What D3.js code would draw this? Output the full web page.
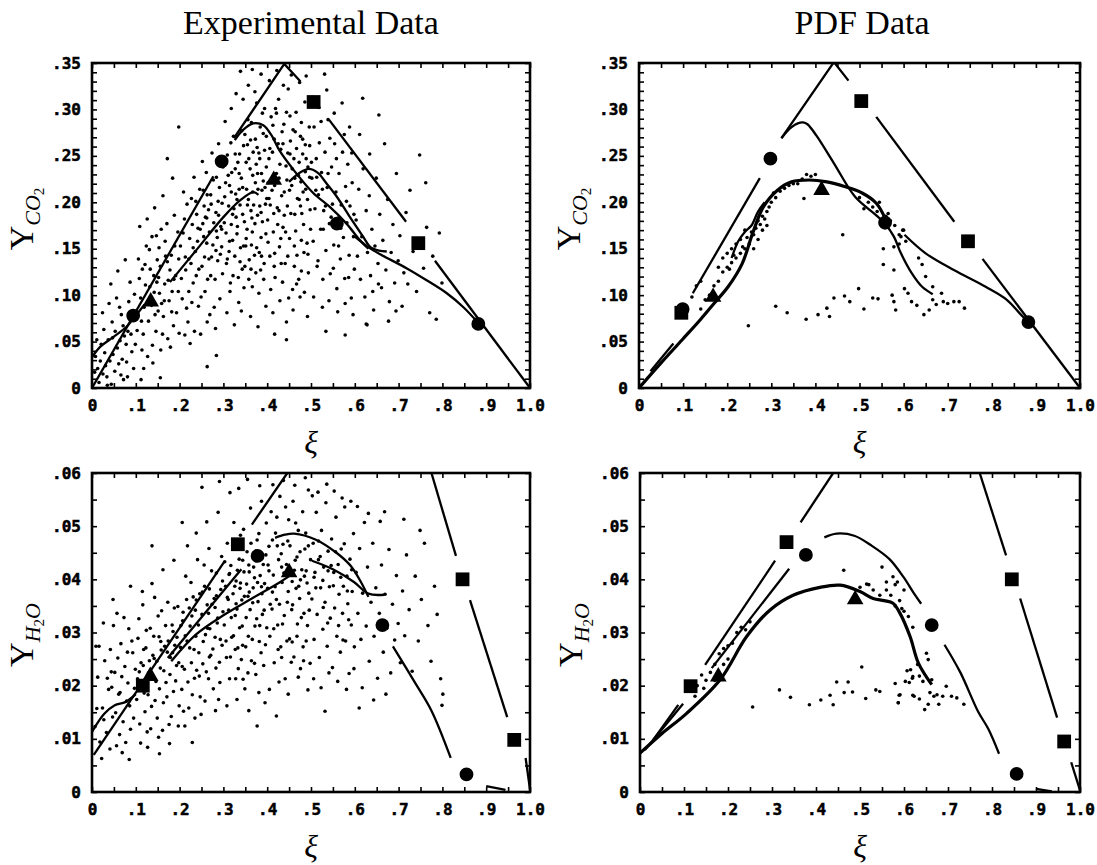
<!DOCTYPE html>
<html>
<head>
<meta charset="utf-8">
<title>Y_CO2 and Y_H2O against mixture fraction</title>
<script src="https://d3js.org/d3.v7.min.js"></script>
<style>
  body { margin: 0; background: #fff; }
</style>
</head>
<body>
<script>
// ---- axis labels ----
const xTickValues = [0, .1, .2, .3, .4, .5, .6, .7, .8, .9, 1.0];
const xTickLabels = ["0", ".1", ".2", ".3", ".4", ".5", ".6", ".7", ".8", ".9", "1.0"];
const co2TickValues = [0, .05, .10, .15, .20, .25, .30, .35];
const co2TickLabels = ["0", ".05", ".10", ".15", ".20", ".25", ".30", ".35"];
const h2oTickValues = [0, .01, .02, .03, .04, .05, .06];
const h2oTickLabels = ["0", ".01", ".02", ".03", ".04", ".05", ".06"];

// ---- Experimental CO2 (top left) ----
const expCO2Dots = [
  [.013,.021],[.021,.047],[.008,.034],[.034,.012],[.027,.063],[.041,.029],[.046,.071],[.052,.018],[.058,.043],[.063,.087],[.069,.031],[.074,.056],[.081,.012],[.086,.074],[.091,.039],[.097,.101],[.016,.006],[.029,.038],[.037,.052],[.044,.004],[.053,.061],[.061,.026],[.067,.079],[.072,.009],[.078,.047],[.084,.093],[.089,.058],[.095,.021],[.006,.017],[.019,.029],[.024,.081],[.031,.024],[.039,.091],[.048,.036],[.056,.097],[.066,.014],[.071,.067],[.079,.028],[.087,.114],[.093,.083],[.099,.047],[.011,.052],[.043,.112],[.059,.126],[.076,.138],[.035,.003],[.064,.051],[.082,.061],[.047,.054],[.025,.015],
  [.103,.062],[.108,.118],[.114,.041],[.119,.087],[.124,.153],[.129,.072],[.133,.128],[.138,.046],[.142,.103],[.147,.164],[.151,.083],[.156,.131],[.161,.058],[.166,.112],[.171,.177],[.176,.094],[.181,.143],[.186,.067],[.191,.121],[.196,.168],[.106,.139],[.111,.097],[.117,.058],[.122,.111],[.127,.034],[.131,.149],[.136,.089],[.141,.121],[.146,.061],[.149,.138],[.154,.102],[.158,.171],[.163,.077],[.168,.142],[.173,.053],[.178,.127],[.183,.104],[.188,.186],[.193,.081],[.198,.139],[.104,.081],[.113,.072],[.121,.133],[.128,.094],[.137,.163],[.144,.079],[.152,.119],[.159,.091],[.167,.158],[.174,.116],[.182,.082],[.189,.153],[.197,.104],[.109,.174],[.126,.182],[.143,.194],[.162,.207],[.184,.226],[.118,.021],[.139,.027],[.157,.041],[.179,.044],[.199,.059],[.132,.109],[.153,.151],[.172,.136],[.187,.117],[.115,.128],[.148,.114],[.165,.094],
  [.202,.153],[.206,.096],[.211,.182],[.214,.127],[.219,.071],[.223,.161],[.227,.204],[.231,.113],[.236,.147],[.239,.187],[.243,.088],[.247,.171],[.251,.131],[.254,.213],[.258,.104],[.262,.156],[.266,.192],[.269,.079],[.273,.141],[.277,.224],[.281,.117],[.284,.169],[.288,.201],[.292,.096],[.296,.152],[.299,.238],[.204,.118],[.208,.167],[.213,.141],[.217,.198],[.221,.104],[.226,.134],[.229,.176],[.234,.061],[.238,.121],[.241,.158],[.246,.214],[.249,.098],[.253,.177],[.257,.141],[.261,.232],[.264,.117],[.268,.168],[.272,.198],[.276,.154],[.279,.087],[.283,.189],[.287,.137],[.291,.216],[.294,.174],[.298,.123],[.216,.086],[.228,.092],[.244,.128],[.259,.184],[.271,.121],[.286,.162],[.297,.199],[.209,.211],[.233,.227],[.252,.244],[.274,.253],[.289,.263],[.224,.048],[.248,.058],[.263,.071],[.282,.064],[.212,.057],[.237,.201],[.256,.196],[.267,.139],[.278,.178],[.293,.144],[.221,.139],[.242,.172],[.263,.208],[.284,.227],[.231,.151],[.255,.163],
  [.302,.178],[.305,.221],[.307,.134],[.309,.251],[.312,.196],[.314,.158],[.316,.113],[.319,.232],[.321,.187],[.323,.271],[.326,.142],[.328,.209],[.331,.166],[.333,.243],[.335,.092],[.338,.197],[.341,.226],[.343,.128],[.346,.261],[.348,.179],[.351,.153],[.353,.214],[.356,.289],[.358,.117],[.361,.236],[.363,.191],[.366,.168],[.368,.254],[.371,.143],[.373,.221],[.376,.307],[.378,.186],[.381,.102],[.383,.247],[.386,.162],[.388,.213],[.391,.274],[.393,.134],[.396,.198],[.398,.238],
  [.303,.206],[.306,.167],[.311,.229],[.313,.147],[.317,.264],[.322,.121],[.324,.193],[.327,.236],[.332,.174],[.336,.214],[.339,.151],[.342,.277],[.344,.187],[.347,.108],[.352,.243],[.354,.171],[.357,.203],[.359,.138],[.362,.267],[.364,.154],[.367,.229],[.369,.197],[.372,.177],[.374,.124],[.377,.259],[.379,.214],[.382,.146],[.384,.281],[.387,.231],[.389,.179],[.392,.117],[.394,.256],[.397,.166],[.399,.204],
  [.304,.287],[.318,.301],[.329,.317],[.345,.311],[.357,.326],[.372,.319],[.386,.338],[.394,.301],[.308,.081],[.325,.068],[.341,.083],[.362,.077],[.379,.066],[.397,.088],[.315,.104],[.334,.119],[.349,.131],[.366,.109],[.385,.127],[.318,.211],[.337,.252],[.355,.262],[.375,.241],[.391,.223],[.329,.184],[.346,.153],[.365,.183],[.383,.196],
  [.401,.181],[.404,.247],[.406,.142],[.409,.292],[.411,.213],[.414,.168],[.416,.268],[.418,.119],[.421,.231],[.423,.194],[.426,.311],[.428,.152],[.431,.257],[.433,.207],[.436,.173],[.438,.284],[.441,.134],[.443,.239],[.446,.196],[.448,.322],[.451,.161],[.453,.266],[.456,.218],[.458,.106],[.461,.247],[.463,.187],[.466,.297],[.468,.143],[.471,.229],[.473,.203],[.476,.271],[.478,.126],[.481,.252],[.483,.176],[.486,.308],[.488,.214],[.491,.156],[.493,.238],[.496,.281],[.498,.192],
  [.402,.221],[.407,.197],[.412,.254],[.417,.145],[.419,.301],[.424,.176],[.427,.226],[.432,.134],[.434,.276],[.439,.211],[.442,.168],[.447,.253],[.449,.097],[.454,.188],[.457,.236],[.462,.153],[.464,.276],[.469,.204],[.472,.117],[.477,.222],[.479,.188],[.484,.146],[.487,.262],[.492,.203],[.494,.124],[.497,.227],
  [.405,.331],[.422,.342],[.437,.326],[.455,.337],[.474,.329],[.489,.336],[.413,.081],[.429,.094],[.444,.071],[.459,.084],[.475,.098],[.492,.077],[.408,.106],[.435,.114],[.467,.112],[.485,.103],[.415,.188],[.445,.224],[.465,.169],[.482,.211],[.499,.171],[.425,.263],[.452,.293],[.478,.286],
  [.502,.226],[.505,.158],[.507,.281],[.509,.193],[.512,.247],[.514,.131],[.517,.208],[.519,.264],[.522,.171],[.524,.232],[.527,.117],[.529,.191],[.532,.254],[.534,.148],[.537,.216],[.539,.289],[.542,.177],[.544,.123],[.547,.238],[.549,.198],[.552,.154],[.554,.263],[.557,.211],[.559,.107],[.562,.183],[.564,.231],[.567,.139],[.569,.197],[.572,.254],[.574,.162],[.577,.118],[.579,.217],[.582,.178],[.584,.241],[.587,.143],[.589,.196],[.592,.097],[.594,.221],[.597,.163],[.599,.128],
  [.503,.313],[.518,.302],[.536,.321],[.553,.296],[.571,.307],[.588,.281],[.506,.098],[.526,.087],[.541,.094],[.561,.082],[.578,.091],[.596,.079],[.511,.213],[.528,.171],[.546,.184],[.563,.153],[.581,.201],[.598,.187],[.516,.137],[.533,.196],[.551,.129],[.568,.172],[.586,.119],[.523,.287],[.543,.269],[.558,.247],[.576,.273],[.593,.253],
  [.603,.181],[.606,.142],[.609,.214],[.613,.117],[.616,.163],[.619,.236],[.623,.098],[.626,.191],[.629,.146],[.633,.207],[.636,.121],[.639,.171],[.643,.084],[.646,.153],[.649,.226],[.653,.134],[.657,.187],[.661,.108],[.664,.159],[.668,.263],[.671,.127],[.675,.203],[.679,.093],[.683,.146],[.687,.176],[.691,.113],[.695,.231],[.699,.137],[.703,.164],[.708,.088],[.712,.124],[.717,.189],[.611,.273],[.634,.252],[.654,.112],[.677,.072],[.694,.083],[.721,.112],[.641,.104],[.628,.068],
  [.726,.213],[.733,.147],[.741,.104],[.748,.251],[.757,.129],[.764,.173],[.771,.081],[.778,.142],[.786,.074],[.793,.167],[.762,.221],[.799,.113],
  [.172,.247],[.198,.281],[.156,.011],[.263,.023],[.284,.035],[.417,.058],[.444,.052],[.534,.061],[.578,.057],[.626,.069],[.655,.294],[.618,.312],[.531,.338],[.366,.343],[.339,.341],[.112,.009],
  [.262,.183],[.271,.208],[.289,.186],[.301,.241],[.314,.218],[.327,.252],[.336,.231],[.349,.273],[.358,.247],[.364,.286],[.373,.268],[.381,.253],[.389,.296],[.398,.271],[.406,.258],[.413,.283],[.421,.296],[.429,.241],[.436,.263],[.444,.297],[.452,.252],[.459,.278],[.467,.258],[.473,.243],[.481,.268],[.489,.247],[.497,.261],[.318,.176],[.331,.203],[.344,.216],[.355,.197],[.367,.211],[.378,.231],[.386,.189],[.395,.216],[.404,.204],[.417,.218],[.427,.191],[.439,.186],[.451,.213],[.463,.226],[.476,.196],[.487,.233],[.501,.243],[.513,.227],[.526,.214],[.539,.231],[.283,.148],[.296,.171],[.309,.139],[.321,.159],[.338,.136],[.352,.161],[.363,.128],[.376,.151],[.387,.142],[.402,.157],[.416,.131],[.431,.161],[.447,.142],[.462,.131],[.478,.159],[.493,.144]
];
const expCO2Straight = [
  [[0,0],[.277,.228]],
  [[.324,.269],[.439,.349],[.476,.330]],
  [[.541,.289],[.717,.179]],
  [[.783,.137],[1.0,0]]
];
const expCO2Curves = [
  [[0,.033],[.018,.044],[.049,.055],[.079,.066],[.098,.077],[.12,.09]],
  [[.178,.114],[.239,.149],[.30,.184],[.338,.202],[.368,.211],[.38,.208]],
  [[.326,.267],[.345,.278],[.368,.285],[.391,.283],[.41,.272],[.429,.255],[.46,.235],[.505,.21],[.543,.195],[.581,.177],[.612,.159],[.631,.15]],
  [[.45,.222],[.475,.232],[.495,.236],[.515,.232],[.536,.22],[.559,.206],[.589,.184],[.619,.163],[.635,.152],[.655,.148],[.673,.147]],
  [[.60,.163],[.63,.152],[.658,.144],[.718,.129],[.764,.116],[.81,.102],[.848,.087],[.882,.07]]
];
const expCO2Circles = [[.094,.078],[.296,.244],[.559,.177],[.882,.069]];
const expCO2Squares = [[.506,.308],[.745,.156]];
const expCO2Triangles = [[.134,.093],[.415,.224]];

// ---- PDF CO2 (top right) ----
const pdfCO2Dots = [
  [.31,.088],[.336,.081],[.248,.067],[.379,.074],[.406,.079],[.432,.077],[.426,.086],[.442,.097],[.466,.099],[.478,.093],[.498,.107],[.51,.085],[.53,.097],[.542,.096],[.574,.10],[.582,.084],[.578,.093],[.602,.107],[.61,.102],[.618,.093],[.63,.089],[.646,.079],[.658,.084],[.666,.095],[.674,.09],[.686,.102],[.69,.093],[.70,.091],[.714,.093],[.726,.093],[.738,.086],
  [.642,.133],[.634,.14],[.65,.12],[.666,.109],[.594,.163],[.578,.152],[.554,.15],[.554,.133],[.578,.127],[.462,.165],[.51,.193],[.374,.204],[.598,.17],[.605,.158],[.59,.155],
  [.14,.085],[.15,.095],[.16,.1],[.17,.11],[.18,.115],[.19,.125],[.2,.13],[.21,.135],[.22,.14],[.23,.145],[.24,.15],[.25,.155],[.22,.155],[.23,.16],[.24,.17],[.26,.165],[.27,.18],[.28,.185],[.29,.19],[.3,.2],[.31,.205],[.29,.175],[.28,.17],[.27,.16],[.26,.15],
  [.12,.098],[.13,.11],[.14,.115],[.18,.13],[.19,.14],[.2,.145],[.21,.15],[.205,.128],[.215,.143],[.235,.152],[.245,.162],[.255,.168],[.265,.172],[.275,.176],[.285,.182],[.295,.195],[.305,.21],
  [.33,.215],[.35,.22],[.37,.225],[.39,.228],[.4,.23],[.36,.22],[.32,.212],[.34,.218],[.38,.23],
  [.5,.205],[.52,.2],[.53,.195],[.54,.19],[.56,.185],[.57,.18],[.58,.175],[.6,.17],[.59,.165],[.545,.2],[.565,.188]
];
const pdfCO2Straight = [
  [[.026,.018],[.078,.048]],
  [[.122,.102],[.274,.226]],
  [[.323,.269],[.442,.351],[.475,.331]],
  [[.538,.292],[.715,.179]],
  [[.779,.139],[1.0,0]]
];
const pdfCO2Curves = [
  [[.323,.269],[.335,.276],[.346,.281],[.36,.285],[.372,.286],[.382,.284],[.402,.272],[.442,.242],[.49,.206],[.538,.186],[.558,.177],[.578,.163],[.594,.145],[.618,.124],[.642,.109],[.666,.101]],
  [[.21,.14],[.225,.158],[.24,.168],[.255,.175],[.27,.19],[.285,.2]],
  [[.602,.165],[.65,.145],[.714,.127],[.786,.109],[.834,.095],[.866,.079],[.883,.071]]
];
const pdfCO2Mean = [[0,0],[.05,.027],[.098,.052],[.138,.073],[.17,.091],[.202,.109],[.234,.134],[.258,.167],[.282,.195],[.314,.213],[.346,.222],[.386,.224],[.426,.222],[.466,.217],[.506,.21],[.538,.199],[.558,.183]];
const pdfCO2Circles = [[.099,.085],[.298,.247],[.558,.178],[.883,.071]];
const pdfCO2Squares = [[.096,.081],[.504,.309],[.746,.158]];
const pdfCO2Triangles = [[.168,.098],[.414,.213]];

// ---- Experimental H2O (bottom left) ----
const expH2ODots = [
  [.007,.0123],[.013,.0216],[.018,.0094],[.024,.0158],[.029,.0247],[.033,.0112],[.038,.0193],[.042,.0268],[.047,.0141],[.052,.0225],[.056,.0087],[.061,.0184],[.066,.0279],[.071,.0132],[.075,.0236],[.079,.0171],[.084,.0307],[.088,.0118],[.093,.0262],[.097,.0195],[.011,.0157],[.016,.0274],[.022,.0063],[.027,.0136],[.035,.0214],[.041,.0081],[.045,.0197],[.049,.0313],[.054,.0149],[.059,.0252],[.063,.0108],[.068,.0217],[.073,.0328],[.077,.0093],[.082,.0205],[.086,.0162],[.091,.0284],[.095,.0139],[.099,.0231],[.026,.0318],[.057,.0336],[.069,.0074],[.081,.0263],[.044,.0226],[.064,.0187],
  [.102,.0174],[.105,.0289],[.109,.0128],[.112,.0243],[.116,.0352],[.119,.0186],[.123,.0271],[.126,.0113],[.129,.0224],[.133,.0308],[.136,.0161],[.139,.0257],[.143,.0366],[.146,.0208],[.149,.0139],[.153,.0292],[.156,.0233],[.159,.0341],[.163,.0168],[.166,.0274],[.169,.0206],[.173,.0357],[.176,.0127],[.179,.0253],[.183,.0314],[.186,.0189],[.189,.0276],[.193,.0238],[.196,.0349],[.199,.0162],
  [.104,.0213],[.107,.0326],[.111,.0092],[.114,.0197],[.118,.0268],[.121,.0151],[.124,.0304],[.128,.0183],[.131,.0247],[.134,.0119],[.138,.0214],[.141,.0293],[.144,.0172],[.148,.0246],[.151,.0331],[.154,.0194],[.158,.0267],[.161,.0116],[.164,.0228],[.168,.0313],[.171,.0179],[.174,.0284],[.178,.0221],[.181,.0142],[.184,.0262],[.188,.0346],[.191,.0209],[.194,.0291],[.198,.0243],
  [.115,.0377],[.137,.0392],[.162,.0418],[.187,.0436],[.127,.0084],[.152,.0103],[.177,.0091],[.197,.0124],
  [.202,.0272],[.205,.0193],[.208,.0338],[.211,.0231],[.214,.0406],[.217,.0284],[.221,.0158],[.224,.0312],[.227,.0243],[.231,.0367],[.234,.0214],[.237,.0293],[.241,.0437],[.244,.0262],[.247,.0179],[.251,.0334],[.254,.0283],[.257,.0387],[.261,.0226],[.264,.0308],[.267,.0458],[.271,.0257],[.274,.0353],[.277,.0194],[.281,.0291],[.284,.0412],[.287,.0327],[.291,.0244],[.294,.0381],[.297,.0276],
  [.203,.0313],[.206,.0236],[.209,.0152],[.213,.0294],[.216,.0362],[.219,.0207],[.223,.0271],[.226,.0394],[.229,.0183],[.233,.0268],[.236,.0342],[.239,.0229],[.243,.0314],[.246,.0373],[.249,.0146],[.253,.0241],[.256,.0427],[.259,.0296],[.263,.0352],[.266,.0213],[.269,.0307],[.273,.0416],[.276,.0269],[.279,.0364],[.283,.0233],[.286,.0318],[.289,.0174],[.293,.0287],[.296,.0443],[.299,.0339],
  [.218,.0463],[.238,.0487],[.262,.0508],[.288,.0526],[.212,.0124],[.235,.0139],[.258,.0171],[.282,.0153],[.245,.0218],[.268,.0254],[.292,.0206],[.228,.0331],
  [.302,.0314],[.305,.0387],[.307,.0253],[.309,.0468],[.312,.0342],[.314,.0213],[.317,.0426],[.319,.0291],[.322,.0373],[.324,.0507],[.327,.0268],[.329,.0354],[.332,.0417],[.334,.0232],[.337,.0309],[.339,.0483],[.342,.0361],[.344,.0276],[.347,.0414],[.349,.0194],[.352,.0328],[.354,.0452],[.357,.0293],[.359,.0376],[.362,.0534],[.364,.0247],[.367,.0356],[.369,.0423],[.372,.0312],[.374,.0221],[.377,.0474],[.379,.0358],[.382,.0283],[.384,.0407],[.387,.0547],[.389,.0334],[.392,.0238],[.394,.0392],[.397,.0446],[.399,.0309],
  [.303,.0433],[.306,.0284],[.311,.0362],[.313,.0409],[.316,.0254],[.318,.0328],[.321,.0463],[.323,.0294],[.326,.0387],[.328,.0213],[.331,.0344],[.333,.0271],[.336,.0438],[.338,.0383],[.341,.0249],[.343,.0312],[.346,.0494],[.348,.0368],[.351,.0273],[.353,.0391],[.356,.0224],[.358,.0427],[.361,.0343],[.363,.0468],[.366,.0287],[.368,.0384],[.371,.0242],[.373,.0437],[.376,.0326],[.378,.0394],[.381,.0486],[.383,.0313],[.386,.0262],[.388,.0373],[.391,.0428],[.393,.0342],[.396,.0277],[.398,.0506],
  [.315,.0563],[.335,.0571],[.355,.0588],[.383,.0576],[.308,.0162],[.331,.0174],[.358,.0153],[.381,.0187],[.395,.0168],[.345,.0212],
  [.401,.0383],[.404,.0462],[.406,.0293],[.409,.0527],[.411,.0344],[.414,.0408],[.416,.0243],[.419,.0487],[.421,.0362],[.424,.0314],[.426,.0437],[.429,.0556],[.431,.0273],[.434,.0394],[.436,.0466],[.439,.0332],[.441,.0213],[.444,.0428],[.446,.0357],[.449,.0512],[.451,.0288],[.454,.0413],[.456,.0343],[.459,.0547],[.461,.0254],[.464,.0436],[.466,.0383],[.469,.0316],[.471,.0492],[.474,.0364],[.476,.0232],[.479,.0418],[.481,.0527],[.484,.0336],[.486,.0457],[.489,.0284],[.491,.0393],[.494,.0568],[.496,.0342],[.499,.0437],
  [.402,.0427],[.407,.0353],[.412,.0474],[.415,.0307],[.418,.0386],[.422,.0517],[.425,.0268],[.428,.0353],[.432,.0448],[.435,.0316],[.438,.0412],[.442,.0536],[.445,.0284],[.448,.0377],[.452,.0463],[.455,.0244],[.458,.0352],[.462,.0417],[.465,.0506],[.468,.0293],[.472,.0387],[.475,.0452],[.478,.0328],[.482,.0273],[.485,.0406],[.488,.0487],[.492,.0313],[.495,.0374],[.498,.0242],
  [.413,.0578],[.437,.0586],[.463,.0577],[.487,.0591],[.405,.0193],[.427,.0207],[.448,.0184],[.471,.0216],[.493,.0192],[.433,.0253],[.457,.0282],[.483,.0247],
  [.502,.0363],[.505,.0468],[.507,.0287],[.509,.0413],[.512,.0526],[.514,.0334],[.517,.0437],[.519,.0253],[.522,.0384],[.524,.0492],[.527,.0306],[.529,.0423],[.532,.0357],[.534,.0544],[.537,.0274],[.539,.0453],[.542,.0386],[.544,.0327],[.547,.0476],[.549,.0234],[.552,.0413],[.554,.0346],[.557,.0517],[.559,.0293],[.562,.0428],[.564,.0372],[.567,.0263],[.569,.0457],[.572,.0336],[.574,.0387],[.577,.0536],[.579,.0284],[.582,.0406],[.584,.0354],[.587,.0223],[.589,.0438],[.592,.0314],[.594,.0377],[.597,.0486],[.599,.0273],
  [.503,.0557],[.516,.0564],[.536,.0579],[.553,.0566],[.571,.0553],[.591,.0547],[.506,.0213],[.523,.0196],[.541,.0224],[.561,.0208],[.581,.0193],[.598,.0232],[.511,.0384],[.528,.0347],[.546,.0426],[.563,.0313],[.576,.0467],[.593,.0418],[.521,.0443],[.538,.0318],[.556,.0452],[.573,.0286],[.586,.0324],
  [.603,.0413],[.607,.0336],[.611,.0458],[.614,.0287],[.618,.0374],[.622,.0507],[.626,.0312],[.629,.0423],[.633,.0246],[.637,.0357],[.641,.0468],[.644,.0293],[.648,.0384],[.652,.0214],[.656,.0336],[.661,.0427],[.665,.0263],[.669,.0372],[.673,.0308],[.678,.0456],[.682,.0224],[.686,.0353],[.691,.0286],[.695,.0407],[.699,.0317],[.704,.0243],[.709,.0378],[.714,.0294],[.718,.0446],[.606,.0537],[.631,.0524],[.658,.0509],[.617,.0196],[.643,.0173],[.671,.0184],
  [.724,.0343],[.731,.0227],[.738,.0406],[.745,.0284],[.752,.0362],[.759,.0468],[.767,.0313],[.774,.0246],[.782,.0387],[.788,.0334],[.796,.0213],[.801,.0184],
  [.009,.0274],[.048,.0362],[.088,.0387],[.137,.0463],[.206,.0507],[.251,.0573],[.291,.0584],[.668,.0527],[.712,.0513],[.749,.0492],[.799,.0163],[.61,.0158],[.532,.0152],[.421,.0143],[.377,.0124],[.229,.0093],[.154,.0072],[.085,.0061],
  [.108,.0226],[.117,.0238],[.125,.0192],[.142,.0251],[.157,.0283],[.172,.0263],[.185,.0302],[.207,.0322],[.222,.0346],[.238,.0361],[.252,.0376],[.268,.0382],[.284,.0369],[.298,.0397],[.314,.0411],[.329,.0397],[.344,.0436],[.359,.0414],[.374,.0453],[.389,.0447],[.404,.0416],[.423,.0463],[.447,.0472],[.468,.0442],[.489,.0416],[.507,.0404],[.527,.0398],[.551,.0388],[.568,.0404],[.583,.0378],[.266,.0336],[.281,.0347],[.309,.0366],[.327,.0332],[.339,.0393],[.356,.0368],[.371,.0403],[.387,.0386],[.412,.0376],[.433,.0423],[.457,.0396],[.476,.0399],[.494,.0463],[.517,.0472],[.539,.0416]
];
const expH2OStraight = [
  [[.004,.007],[.301,.0432]],
  [[.173,.0252],[.341,.0419]],
  [[.365,.0503],[.446,.06]],
  [[.775,.06],[.831,.0444]],
  [[.863,.0361],[.948,.0141]],
  [[.99,.0064],[1.0,.0005]],
  [[.9,.0011],[.944,.0004]]
];
const expH2OCurves = [
  [[0,.0113],[.028,.0147],[.052,.0163],[.076,.0169],[.1,.0184]],
  [[.181,.0246],[.237,.0296],[.301,.0333],[.365,.0364],[.43,.0395],[.462,.0413]],
  [[.418,.0478],[.44,.0484],[.462,.0486],[.51,.0475],[.558,.045],[.59,.0426],[.614,.0395],[.631,.0367]],
  [[.502,.0435],[.55,.0419],[.598,.0395],[.631,.0373],[.667,.0371]],
  [[.687,.0274],[.735,.0209],[.775,.0153],[.819,.0064]]
];
const expH2OCircles = [[.378,.0444],[.663,.0314],[.855,.0033]];
const expH2OSquares = [[.116,.02],[.333,.0466],[.846,.04],[.964,.0098]];
const expH2OTriangles = [[.133,.0218],[.45,.0413]];

// ---- PDF H2O (bottom right) ----
const pdfH2ODots = [
  [.256,.016],[.317,.0192],[.342,.0178],[.385,.0164],[.411,.0173],[.432,.0182],[.439,.0164],[.447,.0207],[.464,.0187],[.473,.0207],[.483,.0188],[.504,.0235],[.513,.0176],[.536,.0192],[.545,.0189],[.58,.0204],[.587,.0168],[.589,.0182],[.607,.0228],[.612,.0206],[.62,.0217],[.62,.0182],[.635,.0175],
  [.615,.023],[.631,.024],[.635,.0218],[.643,.0208],[.651,.0261],[.655,.0249],[.663,.0211],[.659,.0187],[.668,.018],[.675,.0183],[.679,.0165],[.688,.018],[.696,.0199],[.708,.018],[.72,.0177],[.736,.0165],[.647,.0155],[.655,.0165],[.623,.018],[.619,.0214],[.591,.0183],[.587,.0168],[.603,.0208],
  [.463,.0417],[.55,.0423],[.56,.038],[.57,.037],[.58,.039],[.585,.0395],[.59,.036],[.6,.038],[.575,.0405],[.56,.0395],[.545,.037],[.6,.034],[.61,.033],[.62,.031],[.595,.0345],[.58,.035],[.5,.0385],[.52,.039],[.53,.038],[.515,.0391],
  [.15,.021],[.16,.0225],[.17,.024],[.18,.026],[.19,.027],[.2,.0275],[.21,.028],[.22,.03],[.2,.025],[.19,.024],[.17,.021],[.145,.0195],[.14,.022],[.13,.02],[.125,.018],[.23,.031],[.24,.0305],[.25,.032]
];
const pdfH2OStraight = [
  [[.011,.0079],[.098,.0166]],
  [[.03,.0098],[.087,.0164]],
  [[.148,.0239],[.307,.0435]],
  [[.163,.0233],[.339,.042]],
  [[.365,.0507],[.439,.06]],
  [[.772,.06],[.832,.0445]],
  [[.864,.0364],[.948,.014]],
  [[.98,.0056],[1.0,.0003]],
  [[.9,.0006],[.936,.0001]]
];
const pdfH2OCurves = [
  [[.419,.0479],[.447,.0486],[.487,.0482],[.527,.0463],[.567,.0438],[.599,.0404],[.623,.0373],[.639,.0354]],
  [[.692,.0277],[.728,.0225],[.768,.0152],[.792,.0118],[.816,.0072]]
];
const pdfH2OMean = [[0,.0073],[.05,.011],[.106,.0148],[.182,.0211],[.242,.0292],[.295,.0342],[.348,.037],[.409,.0385],[.455,.0389],[.5,.0377],[.53,.0364],[.555,.036],[.575,.0355],[.591,.0336],[.614,.0292],[.633,.0242],[.663,.0202]];
const pdfH2OCircles = [[.377,.0446],[.663,.0314],[.856,.0034]];
const pdfH2OSquares = [[.115,.0199],[.333,.047],[.845,.04],[.964,.0095]];
const pdfH2OTriangles = [[.178,.0217],[.489,.0362]];

// ---- layout ----
const W = 1097, H = 865;
const panels = [
  { left: 92,  top: 63,  w: 438, h: 325, yv: co2TickValues, yl: co2TickLabels, minor: 35, sub: "co2",
    dots: expCO2Dots, straight: expCO2Straight, curves: expCO2Curves, mean: null,
    circles: expCO2Circles, squares: expCO2Squares, triangles: expCO2Triangles, labelX: 33, labelY: 219 },
  { left: 639, top: 63,  w: 441, h: 325, yv: co2TickValues, yl: co2TickLabels, minor: 35, sub: "co2",
    dots: pdfCO2Dots, straight: pdfCO2Straight, curves: pdfCO2Curves, mean: pdfCO2Mean,
    circles: pdfCO2Circles, squares: pdfCO2Squares, triangles: pdfCO2Triangles, labelX: 580, labelY: 219 },
  { left: 92,  top: 473, w: 438, h: 319, yv: h2oTickValues, yl: h2oTickLabels, minor: 12, sub: "h2o",
    dots: expH2ODots, straight: expH2OStraight, curves: expH2OCurves, mean: null,
    circles: expH2OCircles, squares: expH2OSquares, triangles: expH2OTriangles, labelX: 33, labelY: 635 },
  { left: 640, top: 473, w: 440, h: 319, yv: h2oTickValues, yl: h2oTickLabels, minor: 12, sub: "h2o",
    dots: pdfH2ODots, straight: pdfH2OStraight, curves: pdfH2OCurves, mean: pdfH2OMean,
    circles: pdfH2OCircles, squares: pdfH2OSquares, triangles: pdfH2OTriangles, labelX: 582, labelY: 635 }
];

const serif = "'Liberation Serif', 'Times New Roman', serif";
const mono = "'DejaVu Sans Mono', monospace";

const svg = d3.select("body").append("svg")
  .attr("width", W).attr("height", H)
  .style("background", "#fff");

function labelFor(values, labels, d) {
  const i = values.findIndex(v => Math.abs(v - d) < 1e-9);
  return i < 0 ? "" : labels[i];
}

panels.forEach((p, k) => {
  const x = d3.scaleLinear().domain([0, 1]).range([0, p.w]);
  const y = d3.scaleLinear().domain([0, p.yv[p.yv.length - 1]]).range([p.h, 0]);
  const g = svg.append("g").attr("transform", `translate(${p.left},${p.top})`);

  g.append("clipPath").attr("id", "clip" + k)
    .append("rect").attr("width", p.w).attr("height", p.h);
  const plot = g.append("g").attr("clip-path", `url(#clip${k})`);

  // scatter
  plot.selectAll("circle.dot").data(p.dots).join("circle")
    .attr("class", "dot")
    .attr("cx", d => x(d[0])).attr("cy", d => y(d[1]))
    .attr("r", 1.8).attr("fill", "#000");

  const straight = d3.line().x(d => x(d[0])).y(d => y(d[1]));
  const smooth = d3.line().x(d => x(d[0])).y(d => y(d[1])).curve(d3.curveCatmullRom.alpha(0.5));

  plot.selectAll("path.seg").data(p.straight).join("path")
    .attr("class", "seg").attr("d", straight)
    .attr("fill", "none").attr("stroke", "#000").attr("stroke-width", 2.3);
  plot.selectAll("path.crv").data(p.curves).join("path")
    .attr("class", "crv").attr("d", smooth)
    .attr("fill", "none").attr("stroke", "#000").attr("stroke-width", 2.3)
    .attr("stroke-linejoin", "round");
  if (p.mean) {
    plot.append("path").datum(p.mean).attr("d", smooth)
      .attr("fill", "none").attr("stroke", "#000").attr("stroke-width", 3.2);
  }

  // markers
  const sym = (type, size) => d3.symbol().type(type).size(size)();
  const markers = [
    [p.circles, sym(d3.symbolCircle, 150)],
    [p.squares, sym(d3.symbolSquare, 190)],
    [p.triangles, sym(d3.symbolTriangle, 120)]
  ];
  markers.forEach(([pts, path]) => {
    plot.append("g").selectAll("path").data(pts).join("path")
      .attr("d", path)
      .attr("transform", d => `translate(${x(d[0])},${y(d[1])})`)
      .attr("fill", "#000");
  });

  // axes with inward ticks on all four sides
  const styleAxis = a => {
    a.select(".domain").remove();
    a.selectAll(".tick line").attr("stroke-width", 1.6);
    a.attr("font-family", mono).attr("font-size", 16).attr("font-weight", "bold");
    a.selectAll(".tick text").attr("stroke", "#000").attr("stroke-width", 0.5);
  };
  g.append("g").attr("transform", `translate(0,${p.h})`)
    .call(d3.axisBottom(x).tickValues(x.ticks(20)).tickSizeInner(-5).tickSizeOuter(0).tickPadding(12)
      .tickFormat(d => labelFor(xTickValues, xTickLabels, d)))
    .call(styleAxis);
  g.append("g")
    .call(d3.axisTop(x).tickValues(x.ticks(20)).tickSizeInner(-5).tickSizeOuter(0).tickFormat(""))
    .call(styleAxis);
  g.append("g")
    .call(d3.axisLeft(y).tickValues(y.ticks(p.minor)).tickSizeInner(-5).tickSizeOuter(0).tickPadding(11)
      .tickFormat(d => labelFor(p.yv, p.yl, d)))
    .call(styleAxis);
  g.append("g").attr("transform", `translate(${p.w},0)`)
    .call(d3.axisRight(y).tickValues(y.ticks(p.minor)).tickSizeInner(-5).tickSizeOuter(0).tickFormat(""))
    .call(styleAxis);

  g.append("rect").attr("width", p.w).attr("height", p.h)
    .attr("fill", "none").attr("stroke", "#000").attr("stroke-width", 2.6);

  // xi label
  svg.append("text")
    .attr("x", p.left + p.w / 2).attr("y", p.top + p.h + 54)
    .attr("dominant-baseline", "central").attr("text-anchor", "middle")
    .attr("font-family", serif).attr("font-style", "italic").attr("font-size", 32)
    .text("ξ");

  // rotated Y label with subscripts
  const yl = svg.append("text")
    .attr("transform", `translate(${p.labelX},${p.labelY}) rotate(-90)`)
    .attr("text-anchor", "middle")
    .attr("font-family", serif).attr("font-size", 34);
  yl.append("tspan").text("Y");
  if (p.sub === "co2") {
    yl.append("tspan").attr("font-style", "italic").attr("font-size", 22).attr("dy", 7).text("CO");
    yl.append("tspan").attr("font-size", 15).attr("dy", 4).text("2");
  } else {
    yl.append("tspan").attr("font-style", "italic").attr("font-size", 22).attr("dy", 7).text("H");
    yl.append("tspan").attr("font-size", 15).attr("dy", 4).text("2");
    yl.append("tspan").attr("font-style", "italic").attr("font-size", 22).attr("dy", -4).text("O");
  }
});

// column titles
svg.append("text").attr("x", 311).attr("y", 34).attr("text-anchor", "middle")
  .attr("font-family", serif).attr("font-size", 34).text("Experimental Data");
svg.append("text").attr("x", 862).attr("y", 34).attr("text-anchor", "middle")
  .attr("font-family", serif).attr("font-size", 34).text("PDF Data");
</script>
</body>
</html>
